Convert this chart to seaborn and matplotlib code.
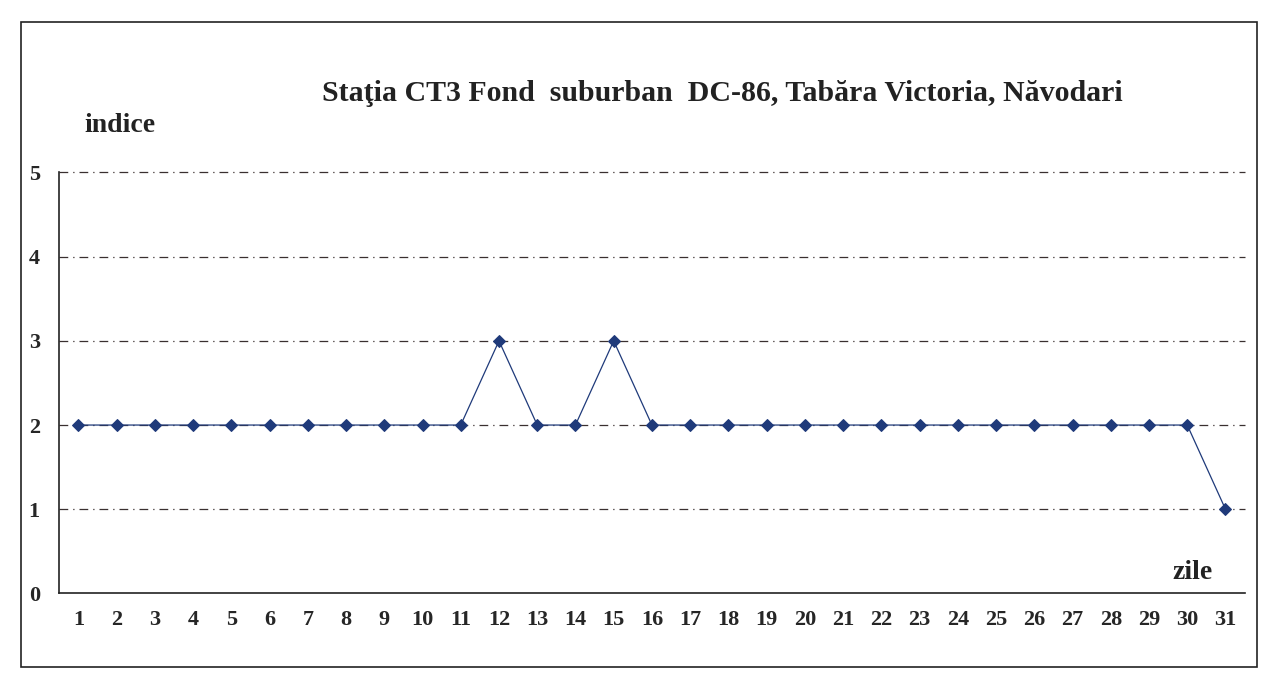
import matplotlib
matplotlib.use('Agg')
import matplotlib.pyplot as plt
from matplotlib.patches import Rectangle
import seaborn as sns
import pandas as pd

# daily index values, station CT3
zile = list(range(1, 32))
indice = [2, 2, 2, 2, 2, 2, 2, 2, 2, 2, 2, 3, 2, 2, 3, 2,
          2, 2, 2, 2, 2, 2, 2, 2, 2, 2, 2, 2, 2, 2, 1]
titlu = 'Staţia CT3 Fond  suburban  DC-86, Tabăra Victoria, Năvodari'

sns.set_style('white')
plt.rcParams['font.family'] = ['Liberation Serif', 'DejaVu Serif']
plt.rcParams['font.weight'] = 'bold'

df = pd.DataFrame({'zi': zile, 'indice': indice})

fig = plt.figure(figsize=(12.61, 6.9), dpi=100)
ax = fig.add_axes([0.047, 0.14, 0.94, 0.61])

sns.lineplot(data=df, x='zi', y='indice', ax=ax, color='#1f3a7a',
             linewidth=0.9, marker='D', markersize=6,
             markeredgecolor='#1f3a7a', markerfacecolor='#1f3a7a')

ax.set_xlim(0.5, 31.5)
ax.set_ylim(0, 5)
ax.set_yticks(range(0, 6))
ax.set_xticks(zile)
ax.set_xticks([z - 0.5 for z in zile] + [31.5], minor=True)
ax.tick_params(axis='x', which='major', length=0, pad=12, labelsize=16)
ax.tick_params(axis='x', which='minor', length=6, width=1.2, direction='out',
               color='#222222')
ax.tick_params(axis='y', length=6, width=1.2, direction='out', labelsize=16,
               pad=8, color='#222222')
for lbl in ax.get_xticklabels() + ax.get_yticklabels():
    lbl.set_fontweight('bold')

for v in range(1, 6):
    ax.axhline(v, color='#3a3030', linewidth=0.9,
               linestyle=(0, (7, 4, 1, 4)), zorder=0, clip_on=False)

sns.despine(ax=ax)
ax.spines['left'].set_color('#222222')
ax.spines['bottom'].set_color('#222222')
ax.spines['left'].set_linewidth(1.2)
ax.spines['bottom'].set_linewidth(1.2)
ax.set_xlabel('')
ax.set_ylabel('')

fig.text(0.573, 0.865, titlu, ha='center', va='center', fontsize=21.5,
         fontweight='bold', color='#222222')
fig.text(0.067, 0.818, 'indice', ha='left', va='center', fontsize=20,
         fontweight='bold', color='#222222')
fig.text(0.93, 0.17, 'zile', ha='left', va='center', fontsize=20,
         fontweight='bold', color='#222222')

fig.add_artist(Rectangle((0.017, 0.033), 0.98, 0.935, transform=fig.transFigure,
                         fill=False, edgecolor='#222222', linewidth=1.2))

fig.savefig('out.png', dpi=100)
